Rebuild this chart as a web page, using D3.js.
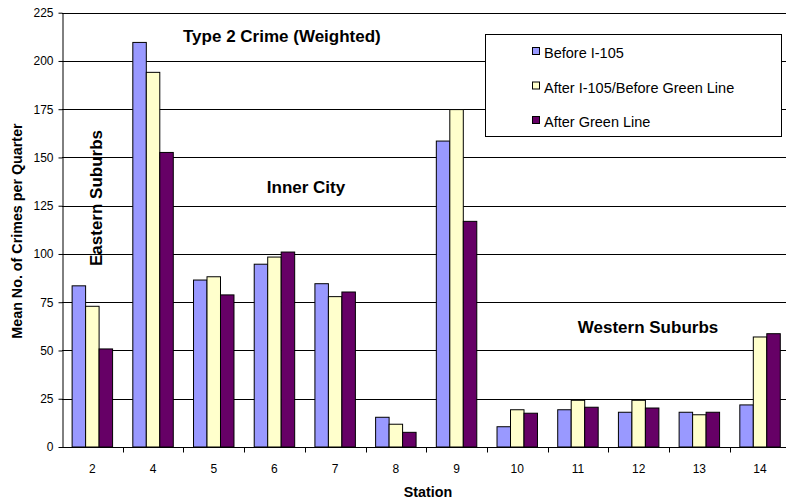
<!DOCTYPE html>
<html>
<head>
<meta charset="utf-8">
<script src="https://cdn.jsdelivr.net/npm/d3@7"></script>
<style>
  html, body { margin: 0; padding: 0; background: #fff; }
  svg { display: block; font-family: "Liberation Sans", Arial, sans-serif; }
</style>
</head>
<body>
<svg id="chart" width="786" height="502"></svg>
<script>
// Stations along the corridor
const stations = ["2", "4", "5", "6", "7", "8", "9", "10", "11", "12", "13", "14"];

// Mean number of weighted Type 2 crimes per quarter, by period
const beforeI105 = [83.5, 209.6, 86.5, 94.7, 84.6, 15.4, 158.5, 10.5, 19.3, 18.0, 18.0, 21.8];
const afterI105BeforeGreen = [72.9, 194.1, 88.2, 98.4, 77.9, 11.8, 174.8, 19.3, 24.2, 24.2, 16.7, 57.0];
const afterGreenLine = [50.8, 152.6, 78.8, 101.0, 80.3, 7.6, 116.9, 17.5, 20.6, 20.2, 18.0, 58.7];

const seriesNames = ["Before I-105", "After I-105/Before Green Line", "After Green Line"];
const seriesColors = ["#9999FF", "#FFFFCC", "#660066"];
const yTicks = [0, 25, 50, 75, 100, 125, 150, 175, 200, 225];

const seriesValues = [beforeI105, afterI105BeforeGreen, afterGreenLine];
const rows = stations.map((s, i) => ({
  station: s,
  values: seriesValues.map((vals, k) => ({ key: k, value: vals[i] }))
}));

const svg = d3.select("#chart");
const plot = { left: 62, right: 790.4, top: 12.7, bottom: 447 };

const x = d3.scaleBand()
  .domain(stations)
  .range([plot.left, plot.right])
  .paddingInner(1 / 3)
  .paddingOuter(1 / 6);

const xInner = d3.scaleBand()
  .domain([0, 1, 2])
  .range([0, x.bandwidth()])
  .padding(0);

const y = d3.scaleLinear()
  .domain([0, 225])
  .range([plot.bottom, plot.top]);

// Horizontal gridlines
svg.append("g")
  .selectAll("line")
  .data(yTicks.filter(t => t > 0))
  .join("line")
  .attr("x1", plot.left)
  .attr("x2", plot.right)
  .attr("y1", d => Math.round(y(d)) + 0.5)
  .attr("y2", d => Math.round(y(d)) + 0.5)
  .attr("stroke", "#000")
  .attr("stroke-width", 1);

// Bars
const groups = svg.append("g")
  .selectAll("g")
  .data(rows)
  .join("g")
  .attr("transform", d => `translate(${x(d.station)},0)`);

groups.selectAll("rect")
  .data(d => d.values)
  .join("rect")
  .attr("x", d => xInner(d.key))
  .attr("y", d => y(d.value))
  .attr("width", xInner.bandwidth())
  .attr("height", d => y(0) - y(d.value))
  .attr("fill", d => seriesColors[d.key])
  .attr("stroke", "#000")
  .attr("stroke-width", 1);

// Y axis
const yAxis = svg.append("g")
  .attr("transform", `translate(${plot.left + 0.5},0)`)
  .call(d3.axisLeft(y).tickValues(yTicks).tickSize(4).tickPadding(5).tickSizeOuter(0));
yAxis.select(".domain").attr("stroke", "#000");
yAxis.selectAll(".tick line").attr("stroke", "#000");
yAxis.selectAll(".tick text")
  .attr("font-family", "Liberation Sans, Arial, sans-serif")
  .attr("font-size", 12)
  .attr("fill", "#000");

// X axis: tick marks on category boundaries, labels at category centres
const xAxisG = svg.append("g")
  .attr("transform", `translate(0,${Math.round(plot.bottom) + 0.5})`);
xAxisG.append("line")
  .attr("x1", plot.left)
  .attr("x2", plot.right)
  .attr("stroke", "#000");
const gap = (x.step() - x.bandwidth()) / 2;
xAxisG.selectAll("line.tick")
  .data(stations)
  .join("line")
  .attr("class", "tick")
  .attr("x1", d => Math.round(x(d) + x.bandwidth() + gap) + 0.5)
  .attr("x2", d => Math.round(x(d) + x.bandwidth() + gap) + 0.5)
  .attr("y1", 0)
  .attr("y2", 5)
  .attr("stroke", "#000");
xAxisG.selectAll("text")
  .data(stations)
  .join("text")
  .attr("x", d => x(d) + x.bandwidth() / 2)
  .attr("y", 25)
  .attr("text-anchor", "middle")
  .attr("font-size", 12)
  .attr("fill", "#000")
  .text(d => d);

// Axis titles
svg.append("text")
  .attr("x", 428)
  .attr("y", 497)
  .attr("text-anchor", "middle")
  .attr("font-size", 14.3)
  .attr("font-weight", "bold")
  .text("Station");

svg.append("text")
  .attr("transform", "translate(22,231) rotate(-90)")
  .attr("text-anchor", "middle")
  .attr("font-size", 14.3)
  .attr("font-weight", "bold")
  .text("Mean No. of Crimes per Quarter");

// Chart title and region annotations
svg.append("text")
  .attr("x", 183)
  .attr("y", 42)
  .attr("font-size", 17)
  .attr("font-weight", "bold")
  .text("Type 2 Crime (Weighted)");

svg.append("text")
  .attr("x", 306)
  .attr("y", 193)
  .attr("text-anchor", "middle")
  .attr("font-size", 17)
  .attr("font-weight", "bold")
  .text("Inner City");

svg.append("text")
  .attr("x", 648)
  .attr("y", 333)
  .attr("text-anchor", "middle")
  .attr("font-size", 17)
  .attr("font-weight", "bold")
  .text("Western Suburbs");

svg.append("text")
  .attr("transform", "translate(102,198) rotate(-90)")
  .attr("text-anchor", "middle")
  .attr("font-size", 17)
  .attr("font-weight", "bold")
  .text("Eastern Suburbs");

// Legend
const legend = svg.append("g").attr("transform", "translate(485.5,34.5)");
legend.append("rect")
  .attr("width", 296)
  .attr("height", 102)
  .attr("fill", "#fff")
  .attr("stroke", "#000");
const items = legend.selectAll("g.item")
  .data(seriesNames)
  .join("g")
  .attr("class", "item")
  .attr("transform", (d, i) => `translate(0,${i * 34.5})`);
items.append("rect")
  .attr("x", 47)
  .attr("y", 13)
  .attr("width", 7)
  .attr("height", 7)
  .attr("fill", (d, i) => seriesColors[i])
  .attr("stroke", "#000");
items.append("text")
  .attr("x", 58.5)
  .attr("y", 23.5)
  .attr("font-size", 14.5)
  .attr("fill", "#000")
  .text(d => d);
</script>
</body>
</html>
